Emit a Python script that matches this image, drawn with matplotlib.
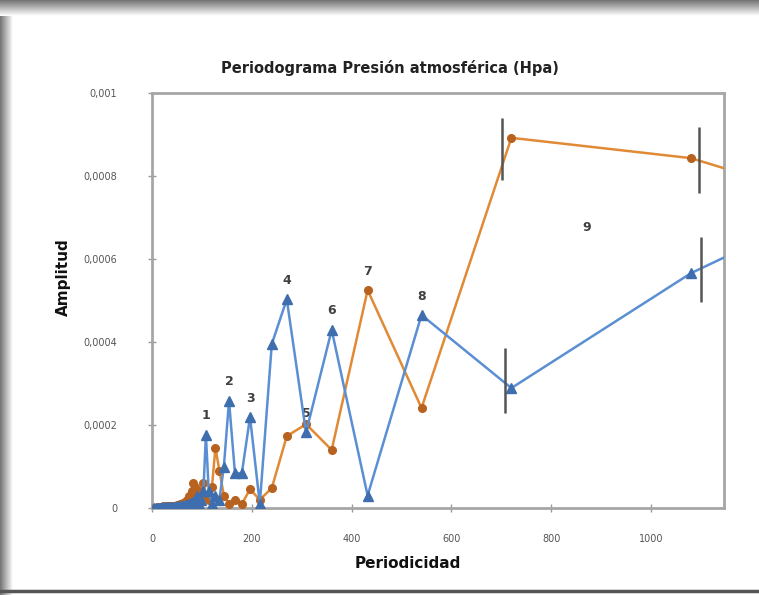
import numpy as np
import matplotlib
matplotlib.use("Agg")
import matplotlib.pyplot as plt

# periods shared by both series
periodo = [2160, 1080, 720, 540, 432, 360, 308.6, 270, 240, 216,
           196.4, 180, 166.2, 154.3, 144, 135, 127.1, 120, 113.7, 108,
           102.9, 98.2, 93.9, 90, 86.4, 83.1, 80, 77.1, 74.5, 72,
           69.7, 67.5, 65.5, 63.5, 61.7, 60, 56.8, 54, 50, 45,
           40, 36, 32, 28, 24, 20, 16, 12, 8, 4]

amp_azul = [0.00118, 0.000566, 0.000289, 0.000465, 0.00003, 0.000429, 0.000182, 0.000503, 0.000395, 0.00001,
            0.000219, 0.000084, 0.000084, 0.000258, 0.0001, 0.00002, 0.00003, 0.00001, 0.00004, 0.000176,
            0.00004, 0.00002, 0.00001, 0.00003, 0.00002, 0.00001, 0.000015, 0.00001, 0.000008, 0.00001,
            0.000006, 0.000008, 0.000005, 0.000006, 0.000004, 0.000005, 0.000004, 0.000003, 0.000004, 0.000003,
            0.000002, 0.000003, 0.000002, 0.000002, 0.000001, 0.000002, 0.000001, 0.000001, 0.000001, 0.000001]

amp_naranja = [0.000446, 0.000843, 0.000892, 0.000241, 0.000525, 0.00014, 0.000202, 0.000173, 0.000048, 0.00002,
               0.000045, 0.00001, 0.00002, 0.00001, 0.00003, 0.00009, 0.000145, 0.00005, 0.00002, 0.00003,
               0.00006, 0.00002, 0.00004, 0.00003, 0.00005, 0.00006, 0.00004, 0.00002, 0.00003, 0.000015,
               0.00002, 0.00001, 0.000015, 0.00001, 0.000012, 0.000008, 0.00001, 0.000006, 0.000008, 0.000005,
               0.000006, 0.000004, 0.000005, 0.000003, 0.000004, 0.000002, 0.000003, 0.000002, 0.000001, 0.000001]

# numbered peaks: (label, period, amplitude)
picos = [("1", 108, 0.000176), ("2", 154.3, 0.000258), ("3", 196.4, 0.000219),
         ("4", 270, 0.000503), ("5", 308.6, 0.000182), ("6", 360, 0.000429),
         ("7", 432, 0.000525), ("8", 540, 0.000465)]

# vertical range bars
barra_x = [701, 1095, 707, 1099]
barra_lo = [0.00079, 0.000759, 0.000229, 0.000496]
barra_hi = [0.00094, 0.000918, 0.000386, 0.000653]

xticks = [0, 200, 400, 600, 800, 1000]
yticks = [0, 0.0002, 0.0004, 0.0006, 0.0008, 0.001]
ylabels = ["0", "0,0002", "0,0004", "0,0006", "0,0008", "0,001"]

fig = plt.figure(figsize=(7.59, 5.95), dpi=100)
fig.patch.set_facecolor("white")

# shaded frame around the chart
grad = np.linspace(0.45, 1.0, 64)
top = fig.add_axes([0, 1 - 16 / 595, 1, 16 / 595])
top.imshow(grad[:, None], cmap="gray", vmin=0, vmax=1, aspect="auto")
top.axis("off")
left = fig.add_axes([0, 0, 13 / 759, 1 - 16 / 595])
left.imshow(grad[None, :], cmap="gray", vmin=0, vmax=1, aspect="auto")
left.axis("off")
fig.add_artist(plt.Line2D([0, 1], [4 / 595, 4 / 595], color="#555555", lw=2.5))

ax = fig.add_axes([152 / 759, 87 / 595, 572 / 759, 415 / 595])

ax.plot(periodo, amp_naranja, color="#e08a36", lw=1.8, marker="o", ms=5.5,
        mfc="#b8621f", mec="#b8621f", zorder=3, clip_on=True)
ax.plot(periodo, amp_azul, color="#5b8fd3", lw=1.8, marker="^", ms=7,
        mfc="#3f6eae", mec="#3f6eae", zorder=4, clip_on=True)

ax.vlines(barra_x, barra_lo, barra_hi, color="#555555", lw=1.8, zorder=5)

for txt, px, py in picos:
    ax.annotate(txt, (px, py), xytext=(0, 9), textcoords="offset points",
                ha="center", va="bottom", fontsize=9, fontweight="bold", color="#404040")
ax.text(871, 0.000675, "9", ha="center", va="center", fontsize=9,
        fontweight="bold", color="#404040")

ax.set_xlim(0, 1146)
ax.set_ylim(0, 0.001)
ax.set_xticks(xticks)
ax.set_xticklabels([str(t) for t in xticks])
ax.set_yticks(yticks)
ax.set_yticklabels(ylabels)
ax.tick_params(direction="inout", length=6, width=1, color="#999999",
               labelsize=7, labelcolor="#555555")
ax.tick_params(axis="y", pad=22)
ax.tick_params(axis="x", pad=16)

for s in ax.spines.values():
    s.set_color("#a6a6a6")
    s.set_linewidth(2)

fig.text(390 / 759, 1 - 68 / 595, "Periodograma Presión atmosférica (Hpa)",
         ha="center", va="center", fontsize=10.5, fontweight="bold", color="#222222")
fig.text(408 / 759, 1 - 563 / 595, "Periodicidad", ha="center", va="center",
         fontsize=11, fontweight="bold", color="#111111")
fig.text(63 / 759, 1 - 277 / 595, "Amplitud", ha="center", va="center", rotation=90,
         fontsize=11, fontweight="bold", color="#111111")

fig.savefig("out.png", dpi=100)
